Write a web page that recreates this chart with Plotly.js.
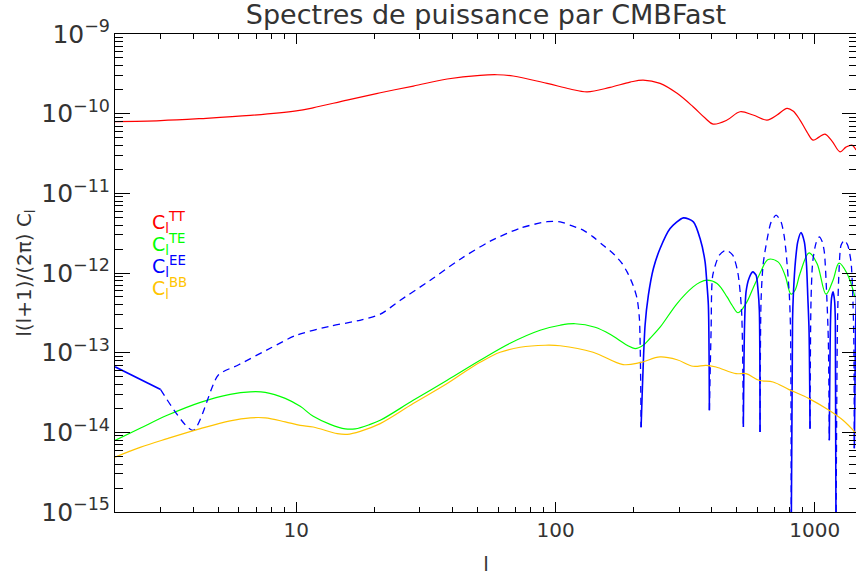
<!DOCTYPE html>
<html>
<head>
<meta charset="utf-8">
<script src="https://cdn.plot.ly/plotly-3.0.1.min.js"></script>
<style>
html,body{margin:0;padding:0;overflow:hidden;background:#fff;}
#chart{width:858px;height:577px;}
</style>
</head>
<body>
<div id="chart"></div>
<script>
// ---- Data (multipole l, l(l+1)/(2pi) C_l) ----
const lTT = [2, 3, 4.3, 6.65, 10, 11.6, 15.7, 21.1, 28.3, 38.2, 51.2, 59.6, 68.6, 92.8, 113.8, 132.4, 162.4, 193.9, 217.7, 253.1, 294.3, 339.3, 377.4, 405.2, 458.6, 514.7, 577.9, 654.2, 714.9, 781.5, 824.3, 877, 933.3, 984.2, 1038, 1095, 1165, 1251, 1319, 1391, 1442];
const clTT = [7.96e-11, 8.19e-11, 8.68e-11, 9.50e-11, 1.084e-10, 1.183e-10, 1.48e-10, 1.831e-10, 2.222e-10, 2.721e-10, 3.03e-10, 3.08e-10, 2.97e-10, 2.40e-10, 2.04e-10, 1.88e-10, 2.14e-10, 2.49e-10, 2.64e-10, 2.40e-10, 1.80e-10, 1.221e-10, 8.81e-11, 7.40e-11, 8.31e-11, 1.056e-10, 9.61e-11, 8.31e-11, 9.61e-11, 1.166e-10, 1.078e-10, 8.31e-11, 5.87e-11, 4.66e-11, 5.08e-11, 5.54e-11, 4.53e-11, 3.32e-11, 3.80e-11, 4.03e-11, 3.49e-11];

const lTE = [2, 2.5, 3.18, 4.27, 5.56, 6.65, 7.59, 9.07, 10.36, 11.63, 13.52, 15.45, 16.88, 19.29, 21.08, 28.25, 38.2, 51.2, 66.8, 87.2, 104.2, 119, 142.1, 162.4, 188.8, 202.7, 217.7, 231.6, 253.1, 294.3, 339.3, 361, 384.1, 419.8, 458.7, 479.6, 505.8, 543, 577.9, 614.9, 660.2, 721.2, 767.5, 809.6, 838.8, 877, 950, 1019.8, 1104.7, 1175.6, 1240.1, 1331.4, 1428.8];
const clTE = [7.93e-15, 1.123e-14, 1.635e-14, 2.381e-14, 3.00e-14, 3.227e-14, 3.18e-14, 2.67e-14, 2.12e-14, 1.589e-14, 1.26e-14, 1.107e-14, 1.107e-14, 1.26e-14, 1.415e-14, 2.52e-14, 4.50e-14, 8.02e-14, 1.312e-13, 1.912e-13, 2.21e-13, 2.307e-13, 2.085e-13, 1.702e-13, 1.239e-13, 1.126e-13, 1.239e-13, 1.517e-13, 2.085e-13, 4.14e-13, 6.69e-13, 7.66e-13, 8.12e-13, 7.38e-13, 5.01e-13, 3.94e-13, 3.17e-13, 4.14e-13, 6.44e-13, 9.94e-13, 1.477e-12, 1.379e-12, 9.38e-13, 5.42e-13, 6.08e-13, 9.86e-13, 1.788e-12, 1.316e-12, 5.42e-13, 8.12e-13, 1.327e-12, 9.86e-13, 4.97e-13];

// EE: absolute value and sign (+1 solid, -1 dashed, 0 = sign change, shared by both)
const lEE = [2, 3, 4, 5, 6, 8, 10, 13.5, 17.6, 21.1, 25.2, 32.9, 42.9, 56, 73, 92.8, 104.2, 113.8, 127.8, 139.6, 152.6, 166.8, 180.6, 188.8, 199.1, 206.3, 210.6, 213.8, 221.5, 228.1, 238.5, 253.1, 276.6, 311.3, 340.2, 361, 377.4, 383.1, 388.6, 392.1, 398.1, 404.1, 428.3, 454.6, 482.4, 504.3, 521.7, 530.1, 535.8, 543, 557.7, 576.4, 593.5, 604, 611, 614.9, 620.4, 631.5, 648.6, 678.1, 708.8, 740.9, 760.9, 774.5, 797.6, 806.1, 811.1, 820.5, 826.3, 842.6, 859.3, 884.9, 911.2, 929.2, 939.1, 950, 958.5, 966.9, 981.5, 1010.7, 1040.6, 1066.1, 1088, 1111.5, 1127.5, 1137.5, 1149.8, 1160, 1175.6, 1191.3, 1199.9, 1207.2, 1223.4, 1240.1, 1262.2, 1299.7, 1339.5, 1379.3, 1400.4, 1414.1, 1420.5, 1435.6, 1455];
const clEE = [6.65e-14, 3.44e-14, 1.059e-14, 5.20e-14, 7.05e-14, 1.152e-13, 1.654e-13, 2.147e-13, 2.55e-13, 3.04e-13, 4.55e-13, 8.12e-13, 1.491e-12, 2.51e-12, 3.65e-12, 4.41e-12, 4.39e-12, 3.99e-12, 3.45e-12, 2.84e-12, 2.23e-12, 1.758e-12, 1.316e-12, 1.032e-12, 7.03e-13, 4.78e-13, 2.68e-13, 1.156e-14, 2.21e-13, 5.26e-13, 1.139e-12, 2.03e-12, 3.62e-12, 4.92e-12, 4.39e-12, 2.71e-12, 1.379e-12, 7.73e-13, 3.94e-13, 1.89e-14, 1.912e-13, 9.38e-13, 1.673e-12, 1.934e-12, 1.673e-12, 1.032e-12, 3.41e-13, 1.166e-14, 2.21e-13, 5.79e-13, 8.61e-13, 1.032e-12, 9.38e-13, 6.08e-13, 3.41e-13, 1.009e-14, 4.55e-13, 1.253e-12, 2.23e-12, 4.35e-12, 5.32e-12, 4.39e-12, 2.98e-12, 1.841e-12, 5.26e-13, 1.912e-13, 5e-16, 2.55e-13, 5.26e-13, 1.448e-12, 2.46e-12, 3.23e-12, 2.46e-12, 1.253e-12, 5.26e-13, 1.912e-13, 1.113e-14, 4.55e-13, 1.379e-12, 2.37e-12, 2.84e-12, 2.51e-12, 1.841e-12, 5.26e-13, 1.431e-13, 7.93e-15, 2.55e-13, 4.83e-13, 5.79e-13, 4.55e-13, 2.55e-13, 5e-16, 2.55e-13, 1.084e-12, 2.23e-12, 2.58e-12, 2.23e-12, 1.379e-12, 5.26e-13, 1.431e-13, 6.30e-15, 1.912e-13, 8.12e-13];
const signEE = [1, 0, -1, -1, -1, -1, -1, -1, -1, -1, -1, -1, -1, -1, -1, -1, -1, -1, -1, -1, -1, -1, -1, -1, -1, -1, -1, 0, 1, 1, 1, 1, 1, 1, 1, 1, 1, 1, 1, 0, -1, -1, -1, -1, -1, -1, -1, 0, 1, 1, 1, 1, 1, 1, 1, 0, -1, -1, -1, -1, -1, -1, -1, -1, -1, -1, 0, 1, 1, 1, 1, 1, 1, 1, 1, 1, 0, -1, -1, -1, -1, -1, -1, -1, -1, 0, 1, 1, 1, 1, 1, 0, -1, -1, -1, -1, -1, -1, -1, -1, 0, 1, 1];

const lBB = [2, 2.5, 3.18, 4.27, 5.56, 6.65, 7.59, 9.07, 10.36, 11.63, 14.39, 15.73, 17.65, 21.08, 28.25, 38.2, 45.6, 51.2, 61.1, 73, 91.2, 104.2, 139.6, 182.2, 212, 253.1, 294.3, 339.3, 380.8, 415.9, 496.9, 543, 609.5, 690.2, 795.3, 950, 1134.6, 1284.8, 1442];
const clBB = [4.89e-15, 6.48e-15, 8.33e-15, 1.113e-14, 1.394e-14, 1.521e-14, 1.521e-14, 1.355e-14, 1.224e-14, 1.166e-14, 9.63e-15, 9.44e-15, 1.029e-14, 1.286e-14, 2.294e-14, 4.09e-14, 6.01e-14, 7.57e-14, 1.012e-13, 1.169e-13, 1.239e-13, 1.221e-13, 1.012e-13, 7.09e-14, 7.51e-14, 8.83e-14, 8.14e-14, 6.75e-14, 6.94e-14, 6.61e-14, 5.46e-14, 5.46e-14, 4.50e-14, 4.28e-14, 3.44e-14, 2.65e-14, 1.889e-14, 1.415e-14, 9.71e-15];

const legendLabels = ['TT', 'TE', 'EE', 'BB'];
const colTT = '#ff0000', colTE = '#00ff00', colEE = '#0000ff', colBB = '#ffc400';
const legendColors = [colTT, colTE, colEE, colBB];

// ---- Build traces ----
const eeSolid = clEE.map((v, i) => signEE[i] >= 0 ? v : null);
const eeDash  = clEE.map((v, i) => signEE[i] <= 0 ? v : null);

const traces = [
  {x: lTT, y: clTT, mode: 'lines', line: {color: colTT, width: 1.2, shape: 'spline', smoothing: 1}},
  {x: lTE, y: clTE, mode: 'lines', line: {color: colTE, width: 1.2, shape: 'spline', smoothing: 1}},
  {x: lEE, y: eeSolid, mode: 'lines', connectgaps: false, line: {color: colEE, width: 1.6, shape: 'spline', smoothing: 0.7}},
  {x: lEE, y: eeDash, mode: 'lines', connectgaps: false, line: {color: colEE, width: 1.3, dash: '7px,5px', shape: 'spline', smoothing: 0.7}},
  {x: lBB, y: clBB, mode: 'lines', line: {color: colBB, width: 1.2, shape: 'spline', smoothing: 1}}
];

const FONT = 'DejaVu Sans';
const TXT = '#333333';

const annotations = legendLabels.map((lab, i) => ({
  xref: 'paper', yref: 'paper',
  x: 0.047, y: 0.605 - i * 0.0455,
  xanchor: 'left', yanchor: 'middle',
  showarrow: false,
  text: 'C<sub>l</sub><sup>' + lab + '</sup>',
  font: {family: FONT, size: 19, color: legendColors[i]}
}));

const axisCommon = {
  type: 'log',
  showline: true, linecolor: '#000', linewidth: 1,
  mirror: 'ticks', ticks: 'inside', tickcolor: '#000', tickwidth: 1,
  showgrid: false, zeroline: false,
  tickmode: 'linear', tick0: 0, dtick: 1,
  tickfont: {family: FONT, size: 20, color: TXT}
};

const layout = {
  width: 858, height: 577,
  margin: {l: 115, r: 1, t: 34, b: 65},
  paper_bgcolor: '#ffffff', plot_bgcolor: '#ffffff',
  showlegend: false,
  title: {
    text: 'Spectres de puissance par CMBFast',
    font: {family: FONT, size: 27, color: TXT},
    x: 0.5, xref: 'paper', xanchor: 'center',
    y: 0.974, yref: 'container', yanchor: 'middle'
  },
  xaxis: Object.assign({}, axisCommon, {
    range: [Math.log10(2), 3.1627],
    ticklen: 10,
    exponentformat: 'none',
    minor: {ticks: 'inside', ticklen: 5, dtick: 'D1', tickcolor: '#000', tickwidth: 1, showgrid: false},
    title: {text: 'l', font: {family: FONT, size: 20, color: TXT}, standoff: 15}
  }),
  yaxis: Object.assign({}, axisCommon, {
    range: [-15, -9],
    ticklen: 15,
    exponentformat: 'power', showexponent: 'all',
    minor: {ticks: 'inside', ticklen: 8, dtick: 'D1', tickcolor: '#000', tickwidth: 1, showgrid: false},
    title: {text: 'l(l+1)/(2π) C<sub>l</sub>', font: {family: FONT, size: 20, color: TXT}, standoff: 4}
  }),
  annotations: annotations
};

Plotly.newPlot('chart', traces, layout, {staticPlot: true, displayModeBar: false});
</script>
</body>
</html>
